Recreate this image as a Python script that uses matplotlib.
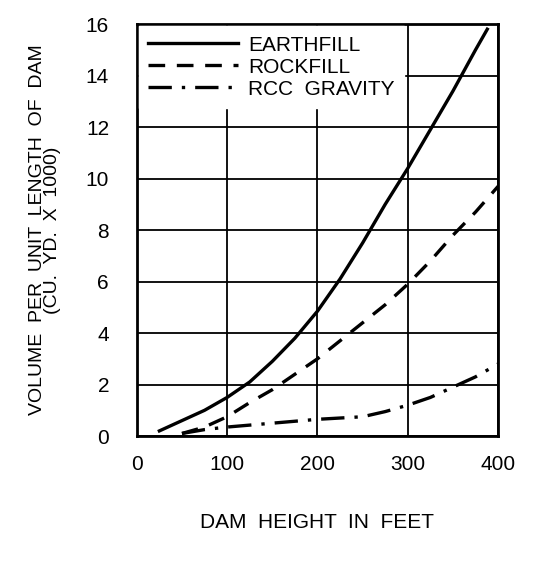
import matplotlib
matplotlib.use("Agg")
import matplotlib.pyplot as plt

# values
earth_h = [25, 50, 75, 100, 125, 150, 175, 200, 225, 250, 275, 300, 325, 350, 375, 388]
earth_v = [0.2, 0.6, 1.0, 1.5, 2.1, 2.9, 3.8, 4.85, 6.1, 7.5, 9.0, 10.4, 11.9, 13.4, 15.0, 15.8]

rock_h = [50, 75, 100, 125, 150, 175, 200, 225, 250, 275, 300, 325, 350, 375, 400]
rock_v = [0.1, 0.35, 0.75, 1.3, 1.8, 2.4, 3.0, 3.7, 4.4, 5.1, 5.9, 6.8, 7.8, 8.7, 9.7]

rcc_h = [50, 75, 100, 150, 200, 250, 275, 300, 325, 350, 375, 400]
rcc_v = [0.1, 0.25, 0.35, 0.5, 0.65, 0.75, 0.95, 1.2, 1.5, 1.9, 2.3, 2.8]

xticks = [0, 100, 200, 300, 400]
yticks = [0, 2, 4, 6, 8, 10, 12, 14, 16]

plt.rcParams['font.family'] = ['Liberation Sans', 'DejaVu Sans']
fs = 15

fig = plt.figure(figsize=(5.45, 5.73), dpi=100)
ax = fig.add_axes([0.251, 0.239, 0.663, 0.719])

ax.plot(earth_h, earth_v, color='black', lw=2.4, ls='-', label='EARTHFILL')
ax.plot(rock_h, rock_v, color='black', lw=2.4, ls=(0, (5, 3.5)), label='ROCKFILL')
ax.plot(rcc_h, rcc_v, color='black', lw=2.4, ls=(0, (7, 3, 1, 3)), label='RCC  GRAVITY')

ax.set_xlim(0, 400)
ax.set_ylim(0, 16)
ax.set_xticks(xticks)
ax.set_yticks(yticks)
ax.grid(True, color='black', lw=1.3)
ax.tick_params(length=0, labelsize=fs)
ax.tick_params(axis='x', pad=14)
ax.tick_params(axis='y', pad=20)
for s in ax.spines.values():
    s.set_linewidth(2.0)

ax.set_xlabel('DAM  HEIGHT  IN  FEET', fontsize=fs, labelpad=28)
ax.set_ylabel('VOLUME  PER  UNIT  LENGTH  OF  DAM\n(CU.  YD.  X  1000)',
              fontsize=14, labelpad=18, linespacing=0.85)

leg = ax.legend(loc='upper left', frameon=True, fontsize=fs, handlelength=4.3,
                handletextpad=0.5, labelspacing=0.15, borderaxespad=0.1,
                borderpad=0.45, fancybox=False)
leg.get_frame().set_edgecolor('white')
leg.get_frame().set_facecolor('white')
leg.get_frame().set_alpha(1)

plt.savefig('out.png', dpi=100)
